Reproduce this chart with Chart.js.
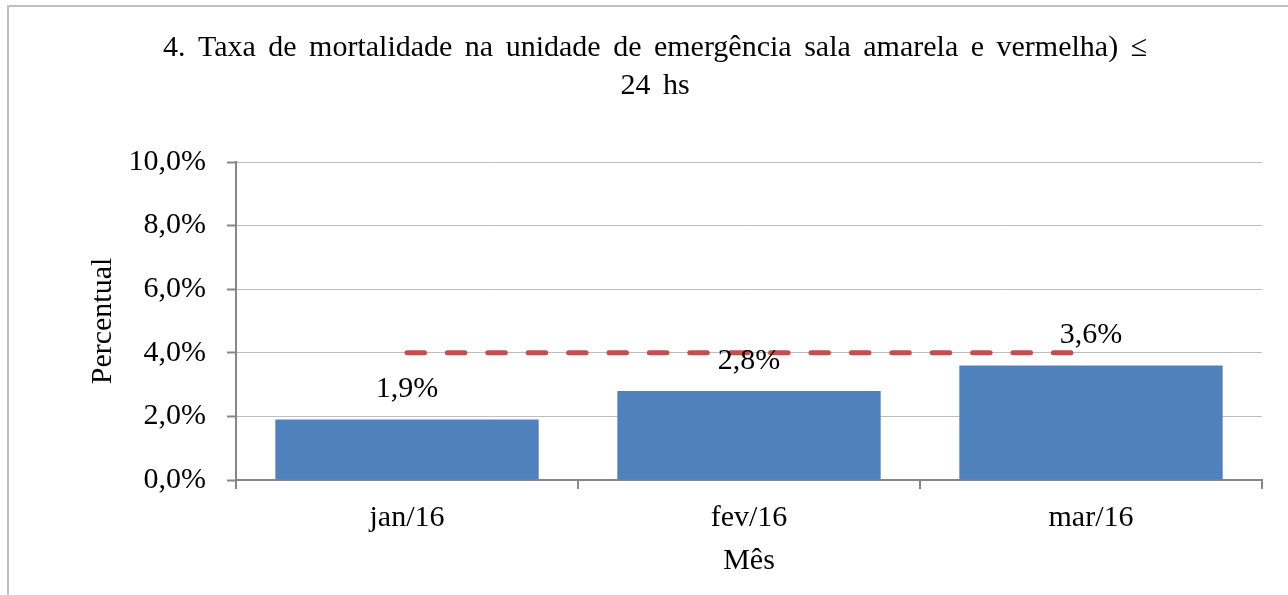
<!DOCTYPE html>
<html>
<head>
<meta charset="utf-8">
<script src="https://cdn.jsdelivr.net/npm/chart.js@4"></script>
<style>
    body { margin: 0; background: #fff; overflow: hidden; }
    #frame { position: absolute; left: 7px; top: 5px; width: 1400px; height: 700px; border: 2px solid #bfbfbf; }
    #chart { position: absolute; left: 0; top: 0; }
</style>
</head>
<body>
<div id="frame"></div>
<canvas id="chart" width="1288" height="595"></canvas>
<script>
const months = ["jan/16", "fev/16", "mar/16"];
const taxa = [1.9, 2.8, 3.6];
const meta = [4.0, 4.0, 4.0];
const titleLines = ["4. Taxa de mortalidade na unidade de emergência sala amarela e vermelha) \u2264", "24 hs"];

const serif = "'Liberation Serif', 'Times New Roman', serif";
const axisGray = "#868686";

function pct(v) {
    return v.toFixed(1).replace(".", ",") + "%";
}

// wider word gaps like the original title
const wordGap = {
    id: "wordGap",
    beforeDraw(chart) { chart.ctx.wordSpacing = "5px"; },
    afterDraw(chart) { chart.ctx.wordSpacing = "0px"; }
};

// values on top of the bars
const barLabels = {
    id: "barLabels",
    afterDraw(chart) {
        const ctx = chart.ctx;
        const meta0 = chart.getDatasetMeta(0);
        ctx.save();
        ctx.font = "30px " + serif;
        ctx.fillStyle = "#000";
        ctx.textAlign = "center";
        ctx.textBaseline = "middle";
        meta0.data.forEach((bar, i) => {
            ctx.fillText(pct(taxa[i]), bar.x, bar.y - 30);
        });
        ctx.restore();
    }
};

const ctx = document.getElementById("chart").getContext("2d");
new Chart(ctx, {
    data: {
        labels: months,
        datasets: [{
            type: "bar",
            label: "Taxa",
            data: taxa,
            backgroundColor: "#4F81BD",
            categoryPercentage: 1,
            barPercentage: 0.77,
            order: 2
        }, {
            type: "line",
            label: "Meta",
            data: meta,
            borderColor: "#C0504D",
            borderWidth: 5,
            borderDash: [17.5, 22.9],
            borderCapStyle: "round",
            pointRadius: 0,
            fill: false,
            order: 1
        }]
    },
    options: {
        responsive: false,
        animation: false,
        layout: { padding: { left: 48, right: 26, top: 0, bottom: 0 } },
        plugins: {
            legend: { display: false },
            tooltip: { enabled: false },
            title: {
                display: true,
                text: titleLines,
                color: "#000",
                font: { family: serif, size: 30, weight: "normal", lineHeight: "38px" },
                padding: { top: 29, bottom: 57 }
            }
        },
        scales: {
            x: {
                offset: true,
                grid: {
                    display: true,
                    drawOnChartArea: false,
                    offset: true,
                    color: axisGray,
                    lineWidth: 2,
                    tickLength: 9
                },
                border: { color: axisGray, width: 2 },
                ticks: { color: "#000", padding: 11, font: { family: serif, size: 30 } },
                title: {
                    display: true,
                    text: "Mês",
                    color: "#000",
                    font: { family: serif, size: 30 },
                    padding: { top: 16, bottom: 16 }
                },
                afterFit(scale) { scale.height = 115; }
            },
            y: {
                min: 0,
                max: 10,
                ticks: {
                    stepSize: 2,
                    color: "#000",
                    padding: 21,
                    font: { family: serif, size: 30 },
                    callback: (v) => pct(v)
                },
                grid: {
                    color: "#bdbdbd",
                    lineWidth: 1,
                    borderDash: [1, 2],
                    tickColor: axisGray,
                    tickBorderDash: [],
                    tickWidth: 2,
                    tickLength: 9
                },
                border: { color: axisGray, width: 2 },
                title: {
                    display: true,
                    text: "Percentual",
                    color: "#000",
                    font: { family: serif, size: 30 },
                    padding: { top: 37, bottom: 0 }
                },
                afterFit(scale) { scale.width = 188; }
            }
        }
    },
    plugins: [wordGap, barLabels]
});
</script>
</body>
</html>
